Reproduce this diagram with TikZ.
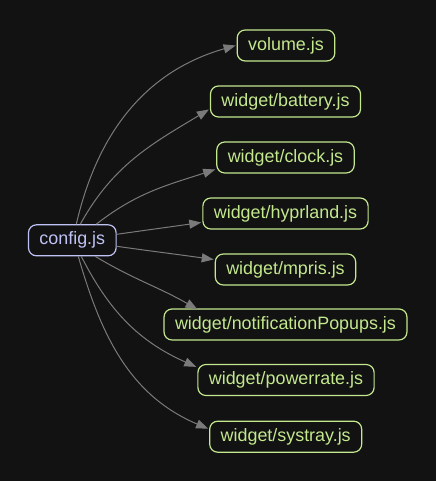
\documentclass[tikz,border=0pt]{standalone}
\usepackage{fontspec}
\setmainfont{Liberation Sans}
\usetikzlibrary{arrows.meta,calc}
\definecolor{bgc}{HTML}{121212}
\definecolor{grn}{HTML}{C3E88D}
\definecolor{lav}{HTML}{BFC2F5}
\definecolor{edg}{HTML}{7A7A7A}
\tikzset{
  filebox/.style={draw=grn, text=grn, line width=1.2pt, rounded corners=8pt,
    inner xsep=11pt, inner ysep=0pt, minimum height=31pt,
    font=\fontsize{17.9}{21}\selectfont},
  rootbox/.style={filebox, draw=lav, text=lav},
  dep/.style={draw=edg, line width=1pt, -{Triangle[length=12pt,width=9pt]}, fill=none},
}
\begin{document}
\begin{tikzpicture}[x=1pt,y=1pt]
\fill[bgc] (0,0) rectangle (436,481);
\useasboundingbox (0,0) rectangle (436,481);
\node[rootbox] (cfg) at (72.3,240.7) {config.js};
\node[filebox] (vol) at (286,435.5) {volume.js};
\node[filebox] (bat) at (285.5,379.5) {widget/battery.js};
\node[filebox] (clk) at (285.5,323.5) {widget/clock.js};
\node[filebox] (hyp) at (285.5,267.5) {widget/hyprland.js};
\node[filebox] (mpr) at (285.5,211.5) {widget/mpris.js};
\node[filebox] (ntf) at (285.5,156.5) {widget/notificationPopups.js};
\node[filebox] (pow) at (286,101) {widget/powerrate.js};
\node[filebox] (sys) at (285.7,44.3) {widget/systray.js};
\draw[dep] ([xshift=4pt]cfg.north) to[out=77,in=196] ([xshift=-1pt]vol.west);
\draw[dep] ([xshift=8pt]cfg.north) to[out=61,in=211] ([yshift=-8pt,xshift=-1pt]bat.west);
\draw[dep] ([xshift=24pt]cfg.north) to[out=38,in=198] ([yshift=-12pt,xshift=-1pt]clk.west);
\draw[dep] ([yshift=6pt]cfg.east) to[out=8,in=188] ([yshift=-9pt,xshift=-1pt]hyp.west);
\draw[dep] ([yshift=-6pt]cfg.east) to[out=-8,in=172] ([yshift=10pt,xshift=-1pt]mpr.west);
\draw[dep] ([xshift=23pt]cfg.south) to[out=-31,in=150] ([xshift=34pt,yshift=-1pt]ntf.north west);
\draw[dep] ([xshift=9pt]cfg.south) to[out=-63,in=156] ([xshift=-1pt,yshift=-3pt]pow.north west);
\draw[dep] ([xshift=6pt]cfg.south) to[out=-74,in=157] ([yshift=8pt,xshift=-1pt]sys.west);
\end{tikzpicture}
\end{document}
